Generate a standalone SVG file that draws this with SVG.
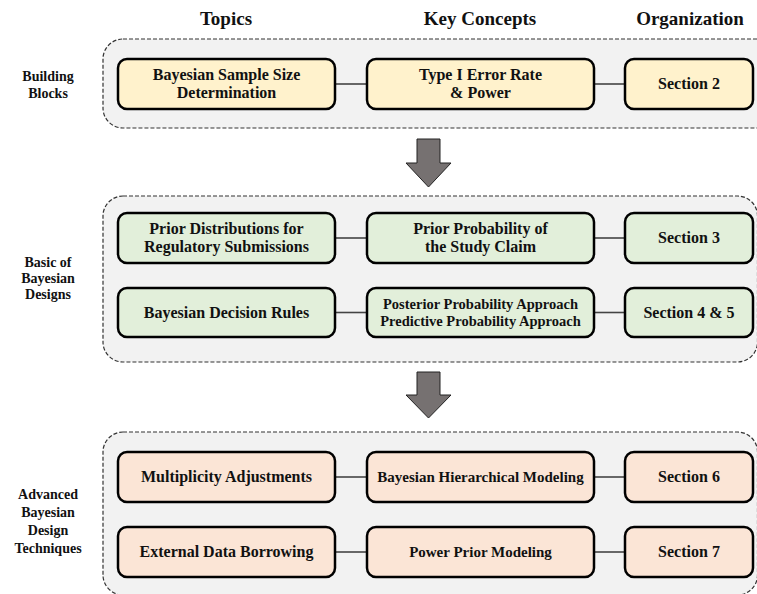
<svg xmlns="http://www.w3.org/2000/svg" width="757" height="594" viewBox="0 0 757 594">
  <style>
    text { font-family: "Liberation Serif", "Times New Roman", serif; font-weight: bold; fill: #111; text-anchor: middle; }
    .hdr { font-size: 19px; }
    .lbl { font-size: 14px; }
    .t16 { font-size: 16px; }
    .t15 { font-size: 15px; }
    .t145 { font-size: 14.5px; }
    .panel { fill: #F2F2F2; stroke: #333; stroke-width: 1.2; stroke-dasharray: 4 2; }
    .node { stroke: #000; stroke-width: 2.5; }
    .yel { fill: #FFF2CC; }
    .grn { fill: #E2EFDA; }
    .org { fill: #FBE5D6; }
    .link { stroke: #444; stroke-width: 1.6; fill: none; }
    .flow { fill: #767171; stroke: #222; stroke-width: 1; }
  </style>

  <!-- column headers -->
  <text class="hdr" x="226" y="25">Topics</text>
  <text class="hdr" x="480" y="25">Key Concepts</text>
  <text class="hdr" x="690" y="25">Organization</text>

  <!-- stage panels -->
  <rect class="panel" x="103" y="39" width="690" height="89" rx="20"/>
  <rect class="panel" x="103" y="196" width="654.5" height="166" rx="20"/>
  <rect class="panel" x="103" y="432" width="654.5" height="163" rx="20"/>

  <!-- stage labels -->
  <text class="lbl" x="48" y="81">Building</text>
  <text class="lbl" x="48" y="98">Blocks</text>
  <text class="lbl" x="48" y="267">Basic of</text>
  <text class="lbl" x="48" y="283">Bayesian</text>
  <text class="lbl" x="48" y="299">Designs</text>
  <text class="lbl" x="48" y="499">Advanced</text>
  <text class="lbl" x="48" y="517">Bayesian</text>
  <text class="lbl" x="48" y="535">Design</text>
  <text class="lbl" x="48" y="553">Techniques</text>

  <!-- flow arrows between stages -->
  <polygon class="flow" points="417,139 440,139 440,163 451,163 428.5,187 406,163 417,163"/>
  <polygon class="flow" points="417,372 440,372 440,395 451,395 428.5,418 406,395 417,395"/>

  <!-- connectors -->
  <g id="connectors">
    <line class="link" x1="335" y1="84" x2="367" y2="84"/>
    <line class="link" x1="594" y1="84" x2="625" y2="84"/>
    <line class="link" x1="335" y1="238" x2="367" y2="238"/>
    <line class="link" x1="594" y1="238" x2="625" y2="238"/>
    <line class="link" x1="335" y1="312.5" x2="367" y2="312.5"/>
    <line class="link" x1="594" y1="312.5" x2="625" y2="312.5"/>
    <line class="link" x1="335" y1="477" x2="367" y2="477"/>
    <line class="link" x1="594" y1="477" x2="625" y2="477"/>
    <line class="link" x1="335" y1="552" x2="367" y2="552"/>
    <line class="link" x1="594" y1="552" x2="625" y2="552"/>
  </g>

  <!-- building blocks -->
  <g id="sample-size">
    <rect class="node yel" x="118" y="59" width="217" height="50" rx="9"/>
    <text class="t16" x="226.5" y="80">Bayesian Sample Size</text>
    <text class="t16" x="226.5" y="98">Determination</text>
  </g>
  <g id="error-rate">
    <rect class="node yel" x="367" y="59" width="227" height="50" rx="9"/>
    <text class="t16" x="480.5" y="80">Type I Error Rate</text>
    <text class="t16" x="480.5" y="98">&amp; Power</text>
  </g>
  <g id="section-2">
    <rect class="node yel" x="625" y="59" width="128" height="50" rx="9"/>
    <text class="t16" x="689" y="89">Section 2</text>
  </g>

  <!-- basic designs -->
  <g id="prior-dist">
    <rect class="node grn" x="118" y="213" width="217" height="50" rx="9"/>
    <text class="t16" x="226.5" y="234">Prior Distributions for</text>
    <text class="t16" x="226.5" y="252">Regulatory Submissions</text>
  </g>
  <g id="prior-prob">
    <rect class="node grn" x="367" y="213" width="227" height="50" rx="9"/>
    <text class="t16" x="480.5" y="234">Prior Probability of</text>
    <text class="t16" x="480.5" y="252">the Study Claim</text>
  </g>
  <g id="section-3">
    <rect class="node grn" x="625" y="213" width="128" height="50" rx="9"/>
    <text class="t16" x="689" y="243">Section 3</text>
  </g>
  <g id="decision-rules">
    <rect class="node grn" x="118" y="288" width="217" height="49" rx="9"/>
    <text class="t16" x="226.5" y="318">Bayesian Decision Rules</text>
  </g>
  <g id="approaches">
    <rect class="node grn" x="367" y="288" width="227" height="49" rx="9"/>
    <text class="t145" x="480.5" y="309">Posterior Probability Approach</text>
    <text class="t145" x="480.5" y="326">Predictive Probability Approach</text>
  </g>
  <g id="section-4-5">
    <rect class="node grn" x="625" y="288" width="128" height="49" rx="9"/>
    <text class="t16" x="689" y="318">Section 4 &amp; 5</text>
  </g>

  <!-- advanced techniques -->
  <g id="multiplicity">
    <rect class="node org" x="118" y="452" width="217" height="50" rx="9"/>
    <text class="t16" x="226.5" y="482">Multiplicity Adjustments</text>
  </g>
  <g id="hierarchical">
    <rect class="node org" x="367" y="452" width="227" height="50" rx="9"/>
    <text class="t15" x="480.5" y="482">Bayesian Hierarchical Modeling</text>
  </g>
  <g id="section-6">
    <rect class="node org" x="625" y="452" width="128" height="50" rx="9"/>
    <text class="t16" x="689" y="482">Section 6</text>
  </g>
  <g id="borrowing">
    <rect class="node org" x="118" y="527" width="217" height="50" rx="9"/>
    <text class="t16" x="226.5" y="557">External Data Borrowing</text>
  </g>
  <g id="power-prior">
    <rect class="node org" x="367" y="527" width="227" height="50" rx="9"/>
    <text class="t15" x="480.5" y="557">Power Prior Modeling</text>
  </g>
  <g id="section-7">
    <rect class="node org" x="625" y="527" width="128" height="50" rx="9"/>
    <text class="t16" x="689" y="557">Section 7</text>
  </g>
</svg>
